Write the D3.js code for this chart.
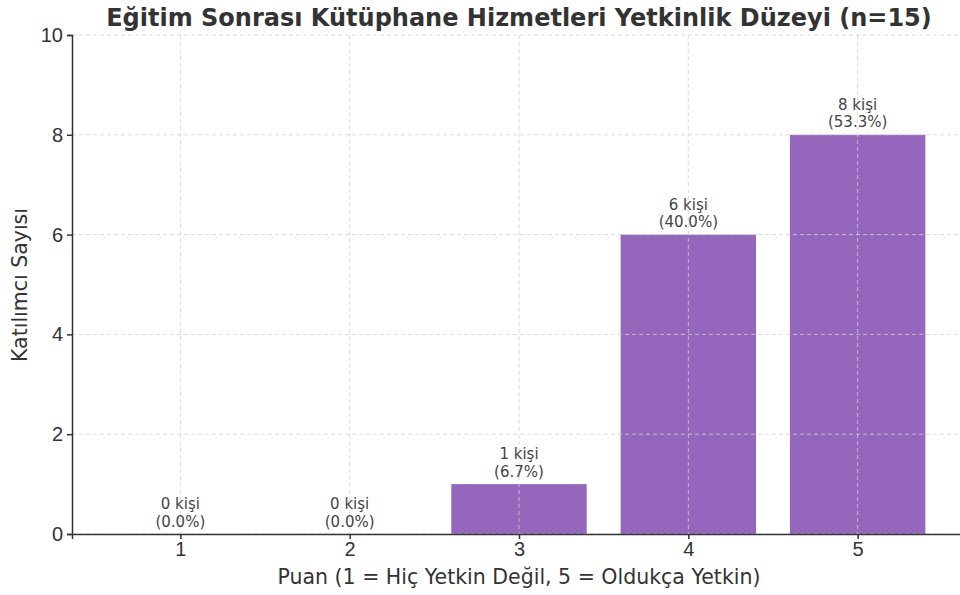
<!DOCTYPE html>
<html>
<head>
<meta charset="utf-8">
<title>Yetkinlik Düzeyi</title>
<script src="https://cdn.jsdelivr.net/npm/d3@7"></script>
<style>
    body { margin: 0; background: #fff; }
    svg { font-family: "DejaVu Sans", sans-serif; }
    .grid line { stroke: #d0d0d0; stroke-dasharray: 4,3; stroke-width: 0.8; }
    .axis path, .axis line { stroke: #333; stroke-width: 1.5; }
    .axis text { fill: #333; font-size: 20px; }
    .ann { fill: #444; font-size: 15px; text-anchor: middle; }
</style>
</head>
<body>
<script>
    // data
    var scores = [1, 2, 3, 4, 5];
    var counts = [0, 0, 1, 6, 8];
    var yTicks = [0, 2, 4, 6, 8, 10];
    var total = 15;

    var width = 960, height = 595;
    var margin = {left: 72, top: 35, bottom: 534};
    var plotRight = 966;

    var svg = d3.select('body').append('svg')
        .attr('width', width)
        .attr('height', height);

    var x = d3.scaleLinear().domain([0.36, 5.64]).range([margin.left, plotRight]);
    var y = d3.scaleLinear().domain([0, 10]).range([margin.bottom, margin.top]);

    // bars
    var barW = 0.8;
    svg.append('g').selectAll('rect')
        .data(scores)
        .enter().append('rect')
        .attr('x', function(d) { return x(d - barW / 2); })
        .attr('width', function(d) { return x(d + barW / 2) - x(d - barW / 2); })
        .attr('y', function(d, i) { return y(counts[i]); })
        .attr('height', function(d, i) { return y(0) - y(counts[i]); })
        .attr('fill', '#9467bd');

    // grid on top of bars
    var grid = svg.append('g').attr('class', 'grid');
    grid.selectAll('.gy').data(yTicks).enter().append('line')
        .attr('x1', margin.left).attr('x2', plotRight)
        .attr('y1', function(d) { return y(d); })
        .attr('y2', function(d) { return y(d); });
    grid.selectAll('.gx').data(scores).enter().append('line')
        .attr('x1', function(d) { return x(d); })
        .attr('x2', function(d) { return x(d); })
        .attr('y1', margin.top).attr('y2', margin.bottom);

    // axes
    svg.append('g').attr('class', 'axis')
        .attr('transform', 'translate(0,' + margin.bottom + ')')
        .call(d3.axisBottom(x).tickValues(scores).tickFormat(d3.format('d')).tickSizeOuter(0).tickSize(5).tickPadding(3));
    svg.append('g').attr('class', 'axis')
        .attr('transform', 'translate(' + margin.left + ',0)')
        .call(d3.axisLeft(y).tickValues(yTicks).tickSizeOuter(0).tickSize(5).tickPadding(4));

    // annotations
    var ann = svg.append('g');
    scores.forEach(function(s, i) {
        var t = ann.append('text').attr('class', 'ann')
            .attr('x', x(s))
            .attr('y', y(counts[i]) - 25);
        t.append('tspan').attr('x', x(s)).text(counts[i] + ' kişi');
        t.append('tspan').attr('x', x(s)).attr('dy', 17.5)
            .text('(' + (counts[i] / total * 100).toFixed(1) + '%)');
    });

    // titles
    svg.append('text')
        .attr('x', (margin.left + plotRight) / 2)
        .attr('y', 26)
        .attr('text-anchor', 'middle')
        .attr('font-size', '24px')
        .attr('font-weight', 'bold')
        .attr('fill', '#333')
        .text('Eğitim Sonrası Kütüphane Hizmetleri Yetkinlik Düzeyi (n=15)');

    svg.append('text')
        .attr('x', (margin.left + plotRight) / 2)
        .attr('y', 584)
        .attr('text-anchor', 'middle')
        .attr('font-size', '20.5px')
        .attr('fill', '#333')
        .text('Puan (1 = Hiç Yetkin Değil, 5 = Oldukça Yetkin)');

    svg.append('text')
        .attr('transform', 'translate(27,285) rotate(-90)')
        .attr('text-anchor', 'middle')
        .attr('font-size', '20.5px')
        .attr('fill', '#333')
        .text('Katılımcı Sayısı');
</script>
</body>
</html>
